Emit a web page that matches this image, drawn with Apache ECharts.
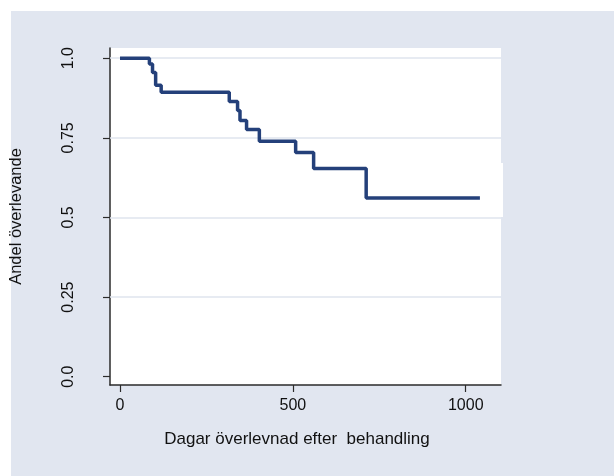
<!DOCTYPE html>
<html>
<head>
<meta charset="utf-8">
<script src="https://cdn.jsdelivr.net/npm/echarts@6/dist/echarts.min.js"></script>
<style>
  html, body { margin: 0; padding: 0; background: #fff; }
  #chart { width: 614px; height: 476px; }
</style>
</head>
<body>
<div id="chart"></div>
<script>
// survival curve
var days     = [0, 85, 94, 103, 119, 316, 340, 347, 366, 403, 508, 560, 712, 1041];
var survival = [1.0, 0.982, 0.955, 0.915, 0.893, 0.864, 0.836, 0.804, 0.776, 0.739, 0.704, 0.654, 0.561, 0.561];

var xTicks = [0, 500, 1000];
var yTicks = [0, 0.25, 0.5, 0.75, 1];
var yTickLabels = ['0.0', '0.25', '0.5', '0.75', '1.0'];
var gridValues = [0.25, 0.5, 0.75, 1];

var font = 'Liberation Sans, Arial, sans-serif';
var navy = '#24407a';

var points = days.map(function (d, i) { return [d, survival[i]]; });

var chart = echarts.init(document.getElementById('chart'));
chart.setOption({
  backgroundColor: '#fff',
  animation: false,
  graphic: [
    { type: 'rect', z: -10, shape: { x: 11, y: 11, width: 603, height: 465 }, style: { fill: '#e1e6f0' } },
    { type: 'rect', z: -5, shape: { x: 480, y: 163, width: 23, height: 54 }, style: { fill: '#fff' } }
  ],
  grid: {
    left: 110, top: 48, width: 391, height: 337,
    show: true, backgroundColor: '#fff', borderWidth: 0
  },
  xAxis: {
    type: 'value', min: -29, max: 1102,
    axisLine: { show: true, onZero: false, lineStyle: { color: '#2b2b2b', width: 1.5 } },
    axisTick: { show: true, length: 7, customValues: xTicks, lineStyle: { color: '#2b2b2b', width: 1.2 } },
    axisLabel: {
      customValues: xTicks, margin: 13, fontFamily: font, fontSize: 16, color: '#111',
      formatter: function (v) { return String(v); }
    },
    splitLine: { show: false },
    name: 'Dagar överlevnad efter  behandling',
    nameLocation: 'middle', nameGap: 46,
    nameTextStyle: { fontFamily: font, fontSize: 17, color: '#111', padding: [0, 17, 0, 0] }
  },
  yAxis: {
    type: 'value', min: -0.026, max: 1.032,
    axisLine: { show: true, onZero: false, lineStyle: { color: '#2b2b2b', width: 1.5 } },
    axisTick: { show: true, length: 7, customValues: yTicks, lineStyle: { color: '#2b2b2b', width: 1.2 } },
    axisLabel: {
      customValues: yTicks, rotate: 90, margin: 33,
      fontFamily: font, fontSize: 16, color: '#111',
      formatter: function (v) {
        var i = yTicks.indexOf(Math.round(v * 100) / 100);
        return i >= 0 ? yTickLabels[i] : '';
      }
    },
    splitLine: { show: false },
    name: 'Andel överlevande',
    nameLocation: 'middle', nameGap: 85, nameRotate: 90,
    nameTextStyle: { fontFamily: font, fontSize: 16.5, color: '#111' }
  },
  series: [
    {
      type: 'line', data: [], silent: true,
      markLine: {
        silent: true, symbol: 'none', label: { show: false },
        lineStyle: { color: '#dfe4ee', width: 1.5, type: 'solid' },
        data: gridValues.map(function (v) { return { yAxis: v }; })
      }
    },
    {
      type: 'line', zlevel: 1, step: 'end', showSymbol: false,
      data: points,
      lineStyle: { color: navy, width: 3.5 }
    }
  ]
});
</script>
</body>
</html>
